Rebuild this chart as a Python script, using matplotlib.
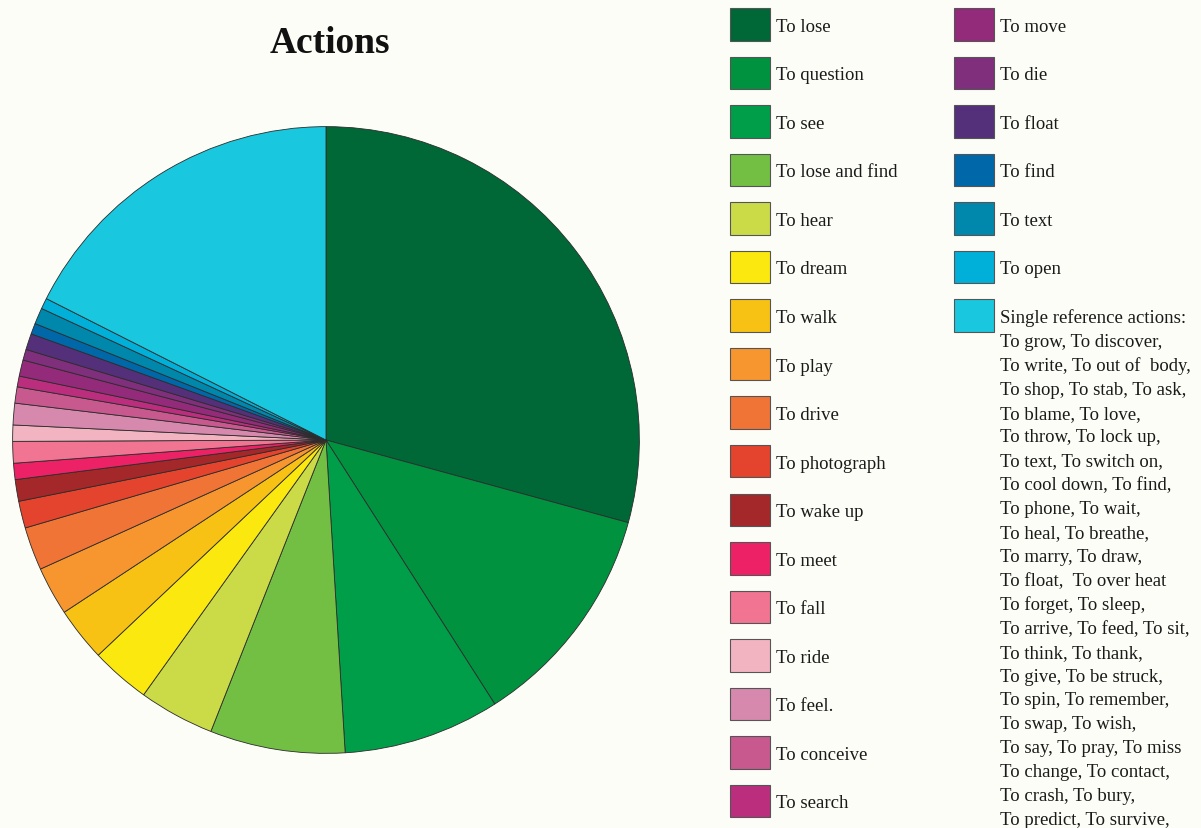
import matplotlib.pyplot as plt
from matplotlib.patches import Rectangle

# Actions, clockwise from 12 o'clock
labels = ['To lose', 'To question', 'To see', 'To lose and find', 'To hear',
          'To dream', 'To walk', 'To play', 'To drive', 'To photograph',
          'To wake up', 'To meet', 'To fall', 'To ride', 'To feel.',
          'To conceive', 'To search', 'To move', 'To die', 'To float',
          'To find', 'To text', 'To open', 'Single reference actions:']
counts = [105, 42, 29, 25, 14, 11, 10, 9, 8, 5, 4, 3, 4, 3, 4, 3, 2, 3, 2, 3,
          2, 3, 2, 63]
colors = ['#006837', '#00923F', '#009E49', '#72BF44', '#CBDB47', '#FBE80F',
          '#F8C214', '#F7962F', '#F07435', '#E4432D', '#A4282A', '#ED2266',
          '#F17492', '#F3B4C2', '#D689AD', '#C8598F', '#BA2E7D', '#932A7A',
          '#7F2F7B', '#55307A', '#0068A8', '#0088AC', '#00B0D8', '#19C8DE']

single_refs = [
    'To grow, To discover,',
    'To write, To out of  body,',
    'To shop, To stab, To ask,',
    'To blame, To love,',
    'To throw, To lock up,',
    'To text, To switch on,',
    'To cool down, To find,',
    'To phone, To wait,',
    'To heal, To breathe,',
    'To marry, To draw,',
    'To float,  To over heat',
    'To forget, To sleep,',
    'To arrive, To feed, To sit,',
    'To think, To thank,',
    'To give, To be struck,',
    'To spin, To remember,',
    'To swap, To wish,',
    'To say, To pray, To miss',
    'To change, To contact,',
    'To crash, To bury,',
    'To predict, To survive,',
]

bg = '#FDFDF8'
serif = ['Liberation Serif', 'DejaVu Serif']
W, H = 1201, 829

fig = plt.figure(figsize=(W / 100, H / 100), dpi=100, facecolor=bg)

# pie, centre (326, 441), radius 314 px
ax = fig.add_axes([12 / W, (H - 755) / H, 628 / W, 628 / H])
ax.pie(counts, colors=colors, startangle=90, counterclock=False,
       wedgeprops=dict(edgecolor='#2b2b2b', linewidth=0.6))
ax.set_xlim(-1.002, 1.002)
ax.set_ylim(-1.002, 1.002)
ax.set_facecolor(bg)

# overlay in pixel coordinates for title and legend
ov = fig.add_axes([0, 0, 1, 1])
ov.set_xlim(0, W)
ov.set_ylim(H, 0)
ov.axis('off')
ov.patch.set_alpha(0)

ov.text(330, 53, 'Actions', ha='center', va='baseline', fontsize=27,
        fontweight='bold', family=serif, color='#111111')

row_h = 48.55
fs = 13.5
for i, (lab, col) in enumerate(zip(labels, colors)):
    c, r = divmod(i, 17)
    x0 = 729.5 if c == 0 else 953.5
    top = 9 + r * row_h
    ov.add_patch(Rectangle((x0, top), 40.5, 32.5, facecolor=col,
                           edgecolor='#555555', linewidth=0.8))
    ov.text(x0 + 46, top + 22.7, lab, ha='left', va='baseline', fontsize=fs,
            family=serif, color='#1a1a1a')

# continuation lines of the single-reference label
for j, line in enumerate(single_refs):
    ov.text(999.5, 323 + (j + 1) * 23.9, line, ha='left', va='baseline',
            fontsize=fs, family=serif, color='#1a1a1a')

fig.savefig('out.png', dpi=100, facecolor=bg)
